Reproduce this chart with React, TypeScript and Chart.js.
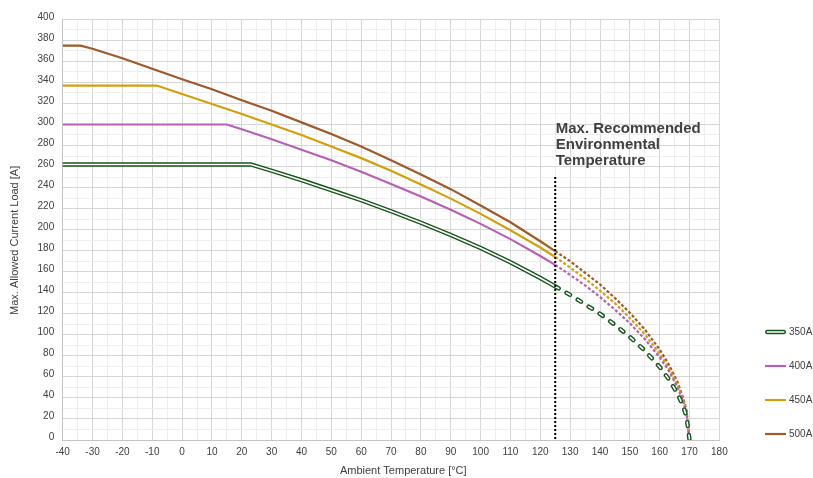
import React, { useEffect, useRef } from 'react';
import { Chart, registerables } from 'chart.js';

Chart.register(...registerables);

// ---- data ----
const SERIES_LABELS = ['350A', '400A', '450A', '500A'];

const T_350 = [-40, 23, 30, 40, 50, 60, 70, 80, 90, 100, 110, 120, 125, 130, 135, 140, 145, 150, 155, 160, 163, 166, 168, 169, 170];
const I_350 = [262, 262, 256, 247, 237.5, 228, 217.5, 206.5, 195, 182.5, 169, 154, 146, 138, 129, 120, 109.5, 98, 85, 69.5, 58, 44, 31, 22, 0];

const T_400 = [-40, 15, 20, 30, 40, 50, 60, 70, 80, 90, 100, 110, 120, 125, 130, 135, 140, 145, 150, 155, 160, 163, 166, 168, 169, 170];
const I_400 = [300, 300, 295.5, 286, 276, 266, 255, 243.5, 231.5, 219, 205.5, 191, 175, 166.5, 157, 147, 136, 124, 111, 96, 78.5, 66, 50, 35.5, 25, 0];

const T_450 = [-40, -8.5, 0, 10, 20, 30, 40, 50, 60, 70, 80, 90, 100, 110, 120, 125, 130, 135, 140, 145, 150, 155, 160, 163, 166, 168, 169, 170];
const I_450 = [337, 337, 329, 319.5, 310, 300, 290, 279, 268, 256, 243, 229.5, 215, 199.5, 183, 174, 164, 153.5, 142, 130, 116, 100.5, 82, 68.5, 52, 37, 26, 0];

const T_500 = [-40, -34, -30, -20, -10, 0, 10, 20, 30, 40, 50, 60, 70, 80, 90, 100, 110, 120, 125, 130, 135, 140, 145, 150, 155, 160, 163, 166, 168, 169, 170];
const I_500 = [375, 375, 372, 363, 353, 343, 333.5, 323, 313, 302, 291, 279, 266, 252.5, 238.5, 223, 207, 189, 179.5, 170, 159, 148, 135, 121, 105, 86, 72, 55, 39, 28, 0];

const X_MIN = -40;
const X_MAX = 180;
const Y_MIN = 0;
const Y_MAX = 400;

const LIMIT_TEMP = 125; // max recommended environmental temperature
const NOTE_TOP_VALUE = 250;
const NOTE_LINES = ['Max. Recommended', 'Environmental', 'Temperature'];

const X_TITLE = 'Ambient Temperature [°C]';
const Y_TITLE = 'Max. Allowed Current Load [A]';

// ---- styles ----
const FONT = "'Liberation Sans', Arial, Helvetica, sans-serif";
const TEXT = '#404040';
const GRID_MAJOR = '#d6d6d6';
const GRID_MINOR = '#eeeeee';
const COLORS = {
  '350A': '#16561b',
  '400A': '#b561b5',
  '450A': '#d3a00c',
  '500A': '#9e5a2a',
};

const toPoints = (xs: number[], ys: number[]) => xs.map((x, i) => ({ x, y: ys[i] }));

const dashAfterLimit = (dash: number[]) => (ctx: any) =>
  ctx.p0.parsed.x >= LIMIT_TEMP ? dash : undefined;

const annotationPlugin = {
  id: 'limitNote',
  afterDatasetsDraw(chart: any) {
    const { ctx, scales } = chart;
    const x = scales.x.getPixelForValue(LIMIT_TEMP);
    const top = scales.y.getPixelForValue(NOTE_TOP_VALUE);
    const bottom = scales.y.getPixelForValue(Y_MIN);
    ctx.save();
    ctx.strokeStyle = '#000000';
    ctx.lineWidth = 2;
    ctx.setLineDash([2, 2]);
    ctx.beginPath();
    ctx.moveTo(x, top);
    ctx.lineTo(x, bottom);
    ctx.stroke();
    ctx.setLineDash([]);
    ctx.fillStyle = TEXT;
    ctx.font = `bold 15px ${FONT}`;
    ctx.textAlign = 'left';
    ctx.textBaseline = 'alphabetic';
    const n = NOTE_LINES.length;
    NOTE_LINES.forEach((line, i) => {
      ctx.fillText(line, x + 0.5, top - 12 - (n - 1 - i) * 16.2);
    });
    ctx.restore();
  },
};

const legendPlugin = {
  id: 'sideLegend',
  afterDraw(chart: any) {
    const { ctx } = chart;
    const x0 = 765;
    const y0 = 332;
    const step = 34;
    const len = 21;
    ctx.save();
    ctx.font = `10px ${FONT}`;
    ctx.textBaseline = 'middle';
    ctx.textAlign = 'left';
    SERIES_LABELS.forEach((label, i) => {
      const ds = chart.data.datasets.find((d: any) => d.label === label);
      if (!ds) return;
      const y = y0 + i * step;
      if (ds.doubleLine) {
        ctx.lineCap = 'round';
        ctx.strokeStyle = ds.borderColor;
        ctx.lineWidth = 4.4;
        ctx.beginPath();
        ctx.moveTo(x0 + 2.2, y);
        ctx.lineTo(x0 + len - 2.2, y);
        ctx.stroke();
        ctx.strokeStyle = '#ffffff';
        ctx.lineWidth = 1.6;
        ctx.beginPath();
        ctx.moveTo(x0 + 2.2, y);
        ctx.lineTo(x0 + len - 2.2, y);
        ctx.stroke();
      } else {
        ctx.lineCap = 'butt';
        ctx.strokeStyle = ds.borderColor;
        ctx.lineWidth = 2.2;
        ctx.beginPath();
        ctx.moveTo(x0, y);
        ctx.lineTo(x0 + len, y);
        ctx.stroke();
      }
      ctx.fillStyle = TEXT;
      ctx.fillText(label, x0 + len + 3, y);
    });
    ctx.restore();
  },
};

export default function App() {
  const canvasRef = useRef<HTMLCanvasElement | null>(null);

  useEffect(() => {
    if (!canvasRef.current) return;
    Chart.defaults.font.family = FONT;
    Chart.defaults.color = TEXT;

    const thin = (label: string, xs: number[], ys: number[]) => ({
      label,
      data: toPoints(xs, ys),
      borderColor: COLORS[label as keyof typeof COLORS],
      backgroundColor: COLORS[label as keyof typeof COLORS],
      borderWidth: 2.2,
      pointRadius: 0,
      fill: false,
      tension: 0,
      borderCapStyle: 'butt',
      segment: { borderDash: dashAfterLimit([3, 2]) },
    });

    const chart = new Chart(canvasRef.current, {
      type: 'line',
      data: {
        datasets: [
          {
            label: '350A inner',
            helper: true,
            data: toPoints(T_350, I_350),
            borderColor: '#ffffff',
            borderWidth: 1.6,
            pointRadius: 0,
            fill: false,
            tension: 0,
            borderCapStyle: 'round',
            segment: { borderDash: dashAfterLimit([4, 9]) },
          } as any,
          {
            label: '350A',
            doubleLine: true,
            data: toPoints(T_350, I_350),
            borderColor: COLORS['350A'],
            backgroundColor: COLORS['350A'],
            borderWidth: 4.4,
            pointRadius: 0,
            fill: false,
            tension: 0,
            borderCapStyle: 'round',
            segment: { borderDash: dashAfterLimit([4, 9]) },
          } as any,
          thin('400A', T_400, I_400) as any,
          thin('450A', T_450, I_450) as any,
          thin('500A', T_500, I_500) as any,
        ],
      },
      options: {
        animation: false,
        responsive: true,
        maintainAspectRatio: false,
        layout: { padding: { top: 19.3, right: 93.6, bottom: 0, left: 0 } },
        plugins: {
          legend: { display: false },
          tooltip: { enabled: false },
        },
        scales: {
          x: {
            type: 'linear',
            min: X_MIN,
            max: X_MAX,
            afterFit: (s: any) => { s.height = 38; },
            ticks: {
              stepSize: 5,
              autoSkip: false,
              maxRotation: 0,
              padding: 6,
              color: TEXT,
              font: { size: 10 },
              callback: (v: any) => (Number(v) % 10 === 0 ? String(v) : ''),
            },
            grid: {
              drawTicks: false,
              color: (c: any) => (c.tick && c.tick.value % 10 === 0 ? GRID_MAJOR : GRID_MINOR),
              lineWidth: 1,
            },
            border: { color: '#c4c4c4', width: 1 },
            title: {
              display: true,
              text: '        ' + X_TITLE,
              color: TEXT,
              font: { size: 11 },
              padding: { top: 0, bottom: 0 },
            },
          },
          y: {
            type: 'linear',
            min: Y_MIN,
            max: Y_MAX,
            afterFit: (s: any) => { s.width = 62.7; },
            ticks: {
              stepSize: 10,
              autoSkip: false,
              padding: 8.5,
              labelOffset: -2.5,
              color: TEXT,
              font: { size: 10 },
              callback: (v: any) => (Number(v) % 20 === 0 ? String(v) : ''),
            },
            grid: {
              drawTicks: false,
              color: (c: any) => (c.tick && c.tick.value % 20 === 0 ? GRID_MAJOR : GRID_MINOR),
              lineWidth: 1,
            },
            border: { color: '#c4c4c4', width: 1 },
            title: {
              display: true,
              text: Y_TITLE + '       ',
              color: TEXT,
              font: { size: 11 },
              padding: { top: 8.4, bottom: 0 },
            },
          },
        },
      } as any,
      plugins: [annotationPlugin, legendPlugin],
    });

    return () => chart.destroy();
  }, []);

  return (
    <div style={{ position: 'fixed', left: 0, top: 0, width: 813, height: 478, background: '#ffffff' }}>
      <canvas ref={canvasRef} />
    </div>
  );
}
